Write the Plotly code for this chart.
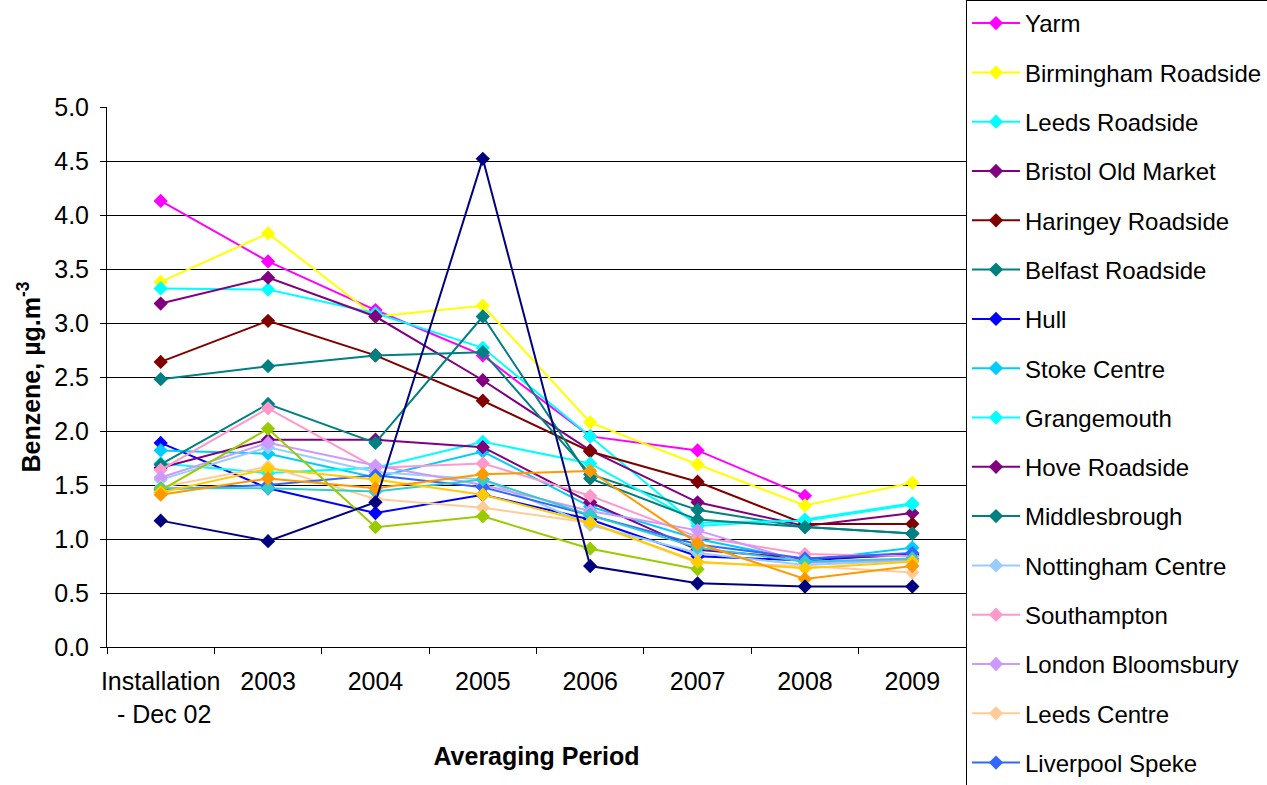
import plotly.graph_objects as go

categories = ["Installation<br> - Dec 02", "2003", "2004", "2005", "2006", "2007", "2008", "2009"]

site_names = [
    "Yarm", "Birmingham Roadside", "Leeds Roadside", "Bristol Old Market",
    "Haringey Roadside", "Belfast Roadside", "Hull", "Stoke Centre",
    "Grangemouth", "Hove Roadside", "Middlesbrough", "Nottingham Centre",
    "Southampton", "London Bloomsbury", "Leeds Centre", "Liverpool Speke",
    "Sheffield Centre", "Glasgow Kerbside", "Cardiff Centre", "Newcastle Centre",
    "Harwell",
]

site_colors = [
    "#FF00FF", "#FFFF00", "#00FFFF", "#800080",
    "#800000", "#008080", "#0000FF", "#00CCFF",
    "#00FFFF", "#800080", "#008080", "#99CCFF",
    "#FF99CC", "#CC99FF", "#FFCC99", "#3366FF",
    "#33CCCC", "#99CC00", "#FFCC00", "#FF9900",
    "#000080",
]

yarm = [4.13, 3.57, 3.12, 2.70, 1.95, 1.82, 1.40, None]
birmingham_roadside = [3.38, 3.83, 3.06, 3.16, 2.08, 1.69, 1.31, 1.52]
leeds_roadside = [3.32, 3.31, 3.09, 2.77, 1.95, 1.12, 1.18, 1.33]
bristol_old_market = [3.18, 3.42, 3.06, 2.47, 1.82, 1.34, 1.12, 1.24]
haringey_roadside = [2.64, 3.02, 2.70, 2.28, 1.81, 1.53, 1.14, 1.14]
belfast_roadside = [2.48, 2.60, 2.70, 2.73, 1.60, 1.27, 1.11, 1.05]
hull = [1.89, 1.47, 1.24, 1.41, 1.18, 0.84, 0.80, 0.86]
stoke_centre = [1.82, 1.79, 1.57, 1.81, 1.30, 1.00, 0.80, 0.92]
grangemouth = [1.70, 1.61, 1.66, 1.90, 1.70, 1.15, 1.17, 1.32]
hove_roadside = [1.66, 1.92, 1.92, 1.85, 1.34, 0.90, 0.82, 0.85]
middlesbrough = [1.69, 2.25, 1.89, 3.06, 1.56, 1.18, 1.11, 1.05]
nottingham_centre = [1.55, 1.85, 1.62, 1.55, 1.13, 0.87, 0.76, 0.80]
southampton = [1.64, 2.21, 1.66, 1.70, 1.40, 1.02, 0.86, 0.84]
london_bloomsbury = [1.57, 1.89, 1.68, 1.50, 1.26, 1.08, 0.78, 0.81]
leeds_centre = [1.48, 1.67, 1.37, 1.29, 1.15, 0.78, 0.75, 0.69]
liverpool_speke = [1.46, 1.50, 1.59, 1.48, 1.22, 0.95, 0.82, 0.87]
sheffield_centre = [1.47, 1.47, 1.44, 1.55, 1.22, 0.92, 0.79, 0.82]
glasgow_kerbside = [1.45, 2.02, 1.11, 1.21, 0.91, 0.72, None, None]
cardiff_centre = [1.43, 1.65, 1.55, 1.41, 1.15, 0.79, 0.73, 0.79]
newcastle_centre = [1.41, 1.56, 1.47, 1.60, 1.63, 0.96, 0.63, 0.75]
harwell = [1.17, 0.98, 1.34, 4.52, 0.75, 0.59, 0.56, 0.56]

series_values = [
    yarm, birmingham_roadside, leeds_roadside, bristol_old_market,
    haringey_roadside, belfast_roadside, hull, stoke_centre,
    grangemouth, hove_roadside, middlesbrough, nottingham_centre,
    southampton, london_bloomsbury, leeds_centre, liverpool_speke,
    sheffield_centre, glasgow_kerbside, cardiff_centre, newcastle_centre,
    harwell,
]

y_ticks = [0.0, 0.5, 1.0, 1.5, 2.0, 2.5, 3.0, 3.5, 4.0, 4.5, 5.0]

FONT = "Liberation Sans, Arial, sans-serif"
W, H = 1267, 785
FS = 25
LEG_FS = 24

fig = go.Figure()
for i, (name, color, vals) in enumerate(zip(site_names, site_colors, series_values)):
    fig.add_trace(go.Scatter(
        x=categories, y=vals, name=name, mode="lines+markers",
        line=dict(color=color, width=2),
        marker=dict(symbol="diamond", size=11, color=color),
        legendgroup=f"g{i}",
        connectgaps=False,
    ))

fig.update_layout(
    width=W, height=H,
    margin=dict(l=107, r=W - 971, t=107, b=H - 647),
    paper_bgcolor="white", plot_bgcolor="white",
    font=dict(family=FONT, size=FS, color="black"),
    showlegend=True,
    legend=dict(
        xref="container", yref="container",
        x=966 / W, y=1.0, xanchor="left", yanchor="top",
        bordercolor="black", borderwidth=1, bgcolor="white",
        font=dict(family=FONT, size=LEG_FS, color="black"),
        tracegroupgap=15.1, itemwidth=48,
        entrywidth=222, entrywidthmode="pixels",
        maxheight=1000,
    ),
    xaxis=dict(
        type="category", categoryorder="array", categoryarray=categories,
        range=[-0.5, 7.5], automargin=False,
        showline=True, linecolor="black", linewidth=1,
        ticks="outside", tickson="boundaries", ticklen=6, tickcolor="black",
        tickangle=0, ticklabelstandoff=12,
        showgrid=False, zeroline=False,
        tickfont=dict(family=FONT, size=FS),
        title=dict(text="<b>Averaging Period</b>", font=dict(family=FONT, size=FS), standoff=20),
    ),
    yaxis=dict(
        range=[0, 5], tickvals=y_ticks, tickformat=".1f", automargin=False,
        showline=True, linecolor="black", linewidth=1,
        ticks="outside", ticklen=6, tickcolor="black", ticklabelstandoff=6,
        showgrid=True, gridcolor="black", gridwidth=1,
        zeroline=False,
        tickfont=dict(family=FONT, size=FS),
        title=dict(text="<b>Benzene, µg.m<sup>-3</sup></b>", font=dict(family=FONT, size=FS), standoff=6),
    ),
)

fig.write_html("out.html", config={"displayModeBar": False},
               post_script="document.body.style.margin='0px';")
